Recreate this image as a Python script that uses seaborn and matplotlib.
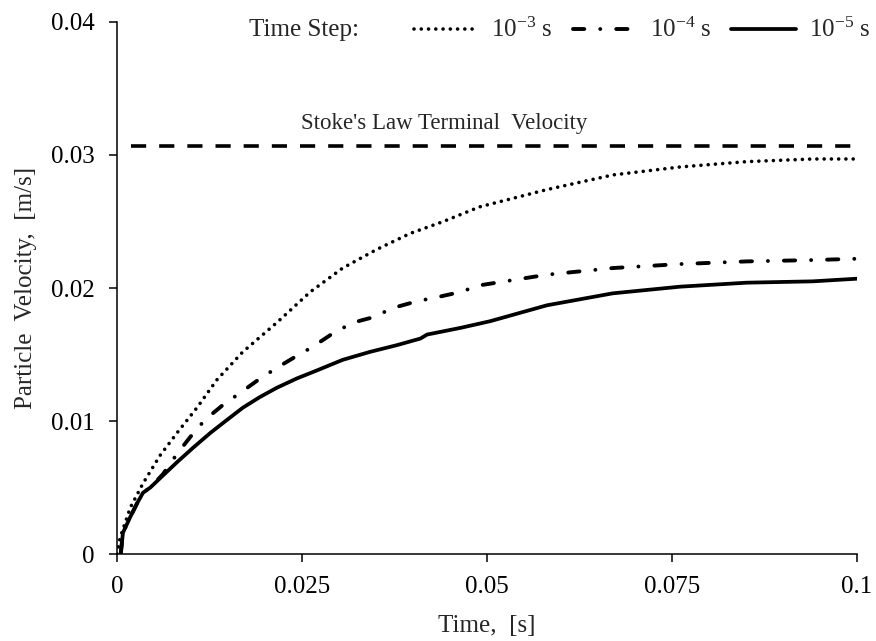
import matplotlib
matplotlib.use("Agg")
import matplotlib.pyplot as plt
from matplotlib.lines import Line2D
import seaborn as sns
import pandas as pd

# Particle velocity vs. time for three integration time steps
t_1e3 = [0, 0.0004, 0.0018, 0.0035, 0.0058, 0.0081, 0.0108, 0.0135, 0.017, 0.0216,
         0.0261, 0.0305, 0.0351, 0.0396, 0.0441, 0.049, 0.0581, 0.067, 0.0761,
         0.0851, 0.094, 0.1]
v_1e3 = [0, 0.0012, 0.0035, 0.0053, 0.0074, 0.0091, 0.011, 0.0131, 0.0152, 0.0174,
         0.0197, 0.0215, 0.0229, 0.0241, 0.025, 0.0261, 0.0274, 0.0285, 0.0291,
         0.0295, 0.0297, 0.0297]

t_1e4 = [0.0005, 0.0008, 0.0018, 0.0027, 0.0035, 0.0045, 0.0062, 0.0082, 0.0099,
         0.0119, 0.0143, 0.0166, 0.0191, 0.0216, 0.024, 0.0265, 0.0292, 0.0319,
         0.0346, 0.0373, 0.0405, 0.0432, 0.0464, 0.049, 0.0581, 0.067, 0.0761,
         0.0851, 0.094, 0.1]
v_1e4 = [0, 0.0016, 0.0028, 0.0038, 0.0046, 0.005, 0.006, 0.0076, 0.0088, 0.0101,
         0.0112, 0.0121, 0.0131, 0.014, 0.0148, 0.0156, 0.0166, 0.0174, 0.0178,
         0.0185, 0.019, 0.0193, 0.0197, 0.0202, 0.021, 0.0215, 0.0218, 0.022,
         0.0221, 0.0222]

t_1e5 = [0.0005, 0.0008, 0.0018, 0.0027, 0.0035, 0.0045, 0.0062, 0.0081, 0.0103,
         0.0126, 0.0149, 0.017, 0.0193, 0.0216, 0.0243, 0.027, 0.0305, 0.0342,
         0.0378, 0.041, 0.0419, 0.0464, 0.0504, 0.0581, 0.067, 0.0761, 0.0851,
         0.094, 0.1]
v_1e5 = [0, 0.0016, 0.0028, 0.0038, 0.0046, 0.005, 0.0059, 0.0069, 0.008, 0.0091,
         0.0101, 0.011, 0.0118, 0.0125, 0.0132, 0.0138, 0.0146, 0.0152, 0.0157,
         0.0162, 0.0165, 0.017, 0.0175, 0.0187, 0.0196, 0.0201, 0.0204, 0.0205,
         0.0207]

# Stokes' law terminal velocity reference
terminal_velocity = 0.0307
terminal_t = [0.0019, 0.1]

series_labels = [r"10$^{-3}$ s", r"10$^{-4}$ s", r"10$^{-5}$ s"]
x_ticks = [0, 0.025, 0.05, 0.075, 0.1]
x_tick_labels = ["0", "0.025", "0.05", "0.075", "0.1"]
y_ticks = [0, 0.01, 0.02, 0.03, 0.04]
y_tick_labels = ["0", "0.01", "0.02", "0.03", "0.04"]

sns.set_style("ticks")
plt.rcParams["font.family"] = ["Liberation Serif", "DejaVu Serif"]
plt.rcParams["mathtext.fontset"] = "custom"
plt.rcParams["mathtext.rm"] = "Liberation Serif"
plt.rcParams["mathtext.it"] = "Liberation Serif:italic"
plt.rcParams["mathtext.default"] = "rm"

fig = plt.figure(figsize=(8.76, 6.41), dpi=100)
ax = fig.add_axes([0.1336, 0.1357, 0.8447, 0.83])

lw_dot = 2.6
lw_dd = 2.8
lw_solid = 2.7
dotted = (0, (0.01, 2.0))
dashdot = (0, (2.9, 4.1, 0.01, 4.1))

df3 = pd.DataFrame({"t": t_1e3, "v": v_1e3})
df4 = pd.DataFrame({"t": t_1e4, "v": v_1e4})
df5 = pd.DataFrame({"t": t_1e5, "v": v_1e5})
dft = pd.DataFrame({"t": terminal_t, "v": [terminal_velocity] * len(terminal_t)})

sns.lineplot(data=df3, x="t", y="v", ax=ax, color="black", lw=lw_dot,
             linestyle=dotted, dash_capstyle="round", sort=False, estimator=None)
sns.lineplot(data=df4, x="t", y="v", ax=ax, color="black", lw=lw_dd,
             linestyle=dashdot, dash_capstyle="round", sort=False, estimator=None)
sns.lineplot(data=df5, x="t", y="v", ax=ax, color="black", lw=lw_solid,
             solid_joinstyle="round", sort=False, estimator=None)
sns.lineplot(data=dft, x="t", y="v", ax=ax, color="black", lw=2.6,
             linestyle=(0, (4.2, 3.6)), dash_capstyle="butt", sort=False,
             estimator=None)

ax.text(0.0442, 0.0316, "Stoke's Law Terminal  Velocity", ha="center",
        va="bottom", fontsize=16.5)

ax.set_xlim(0, 0.1)
ax.set_ylim(0, 0.04)
ax.set_xticks(x_ticks)
ax.set_xticklabels(x_tick_labels)
ax.set_yticks(y_ticks)
ax.set_yticklabels(y_tick_labels)
ax.tick_params(axis="both", direction="out", length=6, width=1.1,
               labelsize=18, pad=10, color="black", labelcolor="black")
for side in ("left", "bottom"):
    ax.spines[side].set_linewidth(1.1)
    ax.spines[side].set_color("black")
sns.despine(ax=ax)

ax.set_xlabel("Time,  [s]", fontsize=18, labelpad=12)
ax.set_ylabel("Particle  Velocity,  [m/s]", fontsize=18, labelpad=10)

# legend row across the top
handles = [
    Line2D([], [], color="black", lw=lw_dot, linestyle=dotted, dash_capstyle="round"),
    Line2D([], [], color="black", lw=lw_dd, linestyle=dashdot, dash_capstyle="round"),
    Line2D([], [], color="black", lw=lw_solid),
]
fig.text(0.284, 0.953, "Time Step:", fontsize=18, ha="left", va="center")
fig.legend(handles, series_labels, ncol=3, loc="center right",
           bbox_to_anchor=(1.005, 0.953), frameon=False, fontsize=18,
           handlelength=2.6, handletextpad=0.5, columnspacing=0.8,
           borderaxespad=0)

fig.savefig("out.png", dpi=100)
